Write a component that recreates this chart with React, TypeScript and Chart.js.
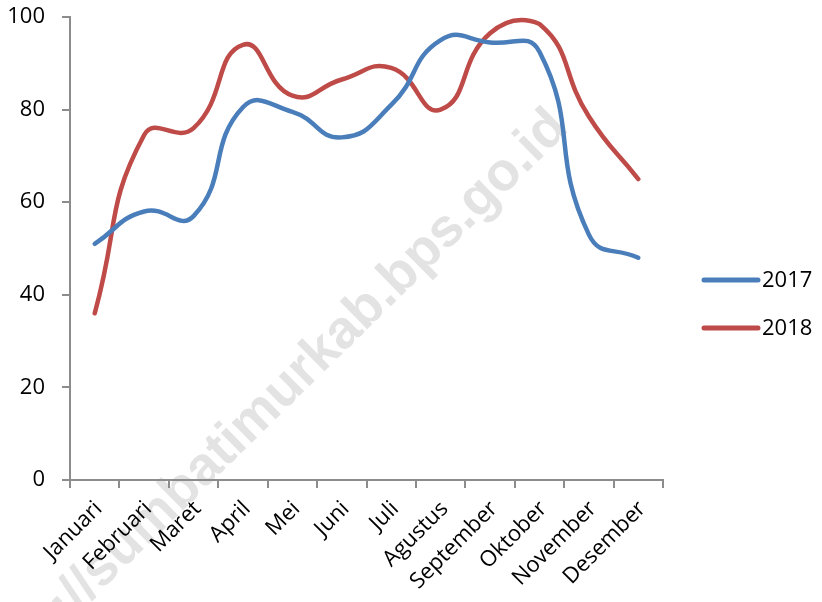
import React, { useEffect, useRef } from "react";
import { Chart, registerables } from "chart.js";

Chart.register(...registerables);

const months = [
  "Januari", "Februari", "Maret", "April", "Mei", "Juni",
  "Juli", "Agustus", "September", "Oktober", "November", "Desember",
];
const series2017 = [51, 58, 57, 80.5, 79.5, 74, 81, 95, 94.5, 92.5, 53, 48];
const series2018 = [36, 74.5, 76, 94, 83, 86.5, 89, 80, 96.5, 98.5, 78.5, 65];
const seriesNames = ["2017", "2018"];
const yTicks = [0, 20, 40, 60, 80, 100];
const watermarkText = "http://sumbatimurkab.bps.go.id";

const FONT = "'Open Sans', Lato, sans-serif";
const AXIS = "#8c8c8c";

const watermarkPlugin = {
  id: "watermark",
  beforeDraw(chart: any) {
    const ctx = chart.ctx;
    ctx.save();
    ctx.translate(570, 130);
    ctx.rotate((-44.5 * Math.PI) / 180);
    ctx.font = "bold 54px 'Liberation Sans', Arial, sans-serif";
    ctx.fillStyle = "#e3e3e3";
    ctx.textAlign = "right";
    ctx.textBaseline = "alphabetic";
    ctx.fillText(watermarkText, 0, 0);
    ctx.restore();
  },
};

const legendPlugin = {
  id: "customLegend",
  afterDraw(chart: any) {
    const ctx = chart.ctx;
    const area = chart.chartArea;
    const x0 = area.right + 41;
    const y0 = area.top + 263;
    ctx.save();
    chart.data.datasets.forEach((ds: any, i: number) => {
      const y = y0 + i * 48;
      ctx.beginPath();
      ctx.strokeStyle = ds.borderColor;
      ctx.lineWidth = 5;
      ctx.lineCap = "round";
      ctx.moveTo(x0, y);
      ctx.lineTo(x0 + 54, y);
      ctx.stroke();
      ctx.fillStyle = "#000";
      ctx.font = `22px ${FONT}`;
      ctx.textAlign = "left";
      ctx.textBaseline = "middle";
      ctx.fillText(ds.label, x0 + 58, y + 1);
    });
    ctx.restore();
  },
};

export default function App() {
  const ref = useRef<HTMLCanvasElement | null>(null);

  useEffect(() => {
    if (!ref.current) return;
    const chart = new Chart(ref.current, {
      type: "line",
      data: {
        labels: months,
        datasets: [
          {
            label: seriesNames[0],
            data: series2017,
            borderColor: "#4a7ebb",
            backgroundColor: "#4a7ebb",
            borderWidth: 4.5,
            pointRadius: 0,
            tension: 0.5,
            borderCapStyle: "round",
            borderJoinStyle: "round",
          },
          {
            label: seriesNames[1],
            data: series2018,
            borderColor: "#be4b48",
            backgroundColor: "#be4b48",
            borderWidth: 4.5,
            pointRadius: 0,
            tension: 0.5,
            borderCapStyle: "round",
            borderJoinStyle: "round",
          },
        ],
      },
      options: {
        animation: false,
        responsive: true,
        maintainAspectRatio: false,
        layout: { padding: { top: 17, right: 159, bottom: 0, left: 0 } },
        plugins: {
          legend: { display: false },
          tooltip: { enabled: false },
        },
        scales: {
          x: {
            offset: true,
            grid: {
              offset: true,
              drawOnChartArea: false,
              drawTicks: true,
              tickLength: 8,
              color: AXIS,
              lineWidth: 2,
            },
            border: { display: true, color: AXIS, width: 2 },
            ticks: {
              minRotation: 45,
              maxRotation: 45,
              autoSkip: false,
              padding: 8,
              labelOffset: 4,
              color: "#000",
              font: { family: FONT, size: 22 },
            },
            afterFit: (scale: any) => {
              scale.height = 122;
            },
          },
          y: {
            min: 0,
            max: 100,
            afterBuildTicks: (scale: any) => {
              scale.ticks = yTicks.map((v) => ({ value: v }));
            },
            grid: {
              drawOnChartArea: false,
              drawTicks: true,
              tickLength: 8,
              color: AXIS,
              lineWidth: 2,
            },
            border: { display: true, color: AXIS, width: 2 },
            ticks: {
              padding: 17,
              color: "#000",
              font: { family: FONT, size: 22 },
            },
            afterFit: (scale: any) => {
              scale.width = 70;
              scale.paddingTop = 0;
              scale.paddingBottom = 0;
            },
          },
        },
      },
      plugins: [watermarkPlugin, legendPlugin],
    } as any);
    return () => chart.destroy();
  }, []);

  return (
    <div style={{ position: "fixed", left: 0, top: 0, width: 822, height: 602, background: "#fff" }}>
      <canvas ref={ref} />
    </div>
  );
}
